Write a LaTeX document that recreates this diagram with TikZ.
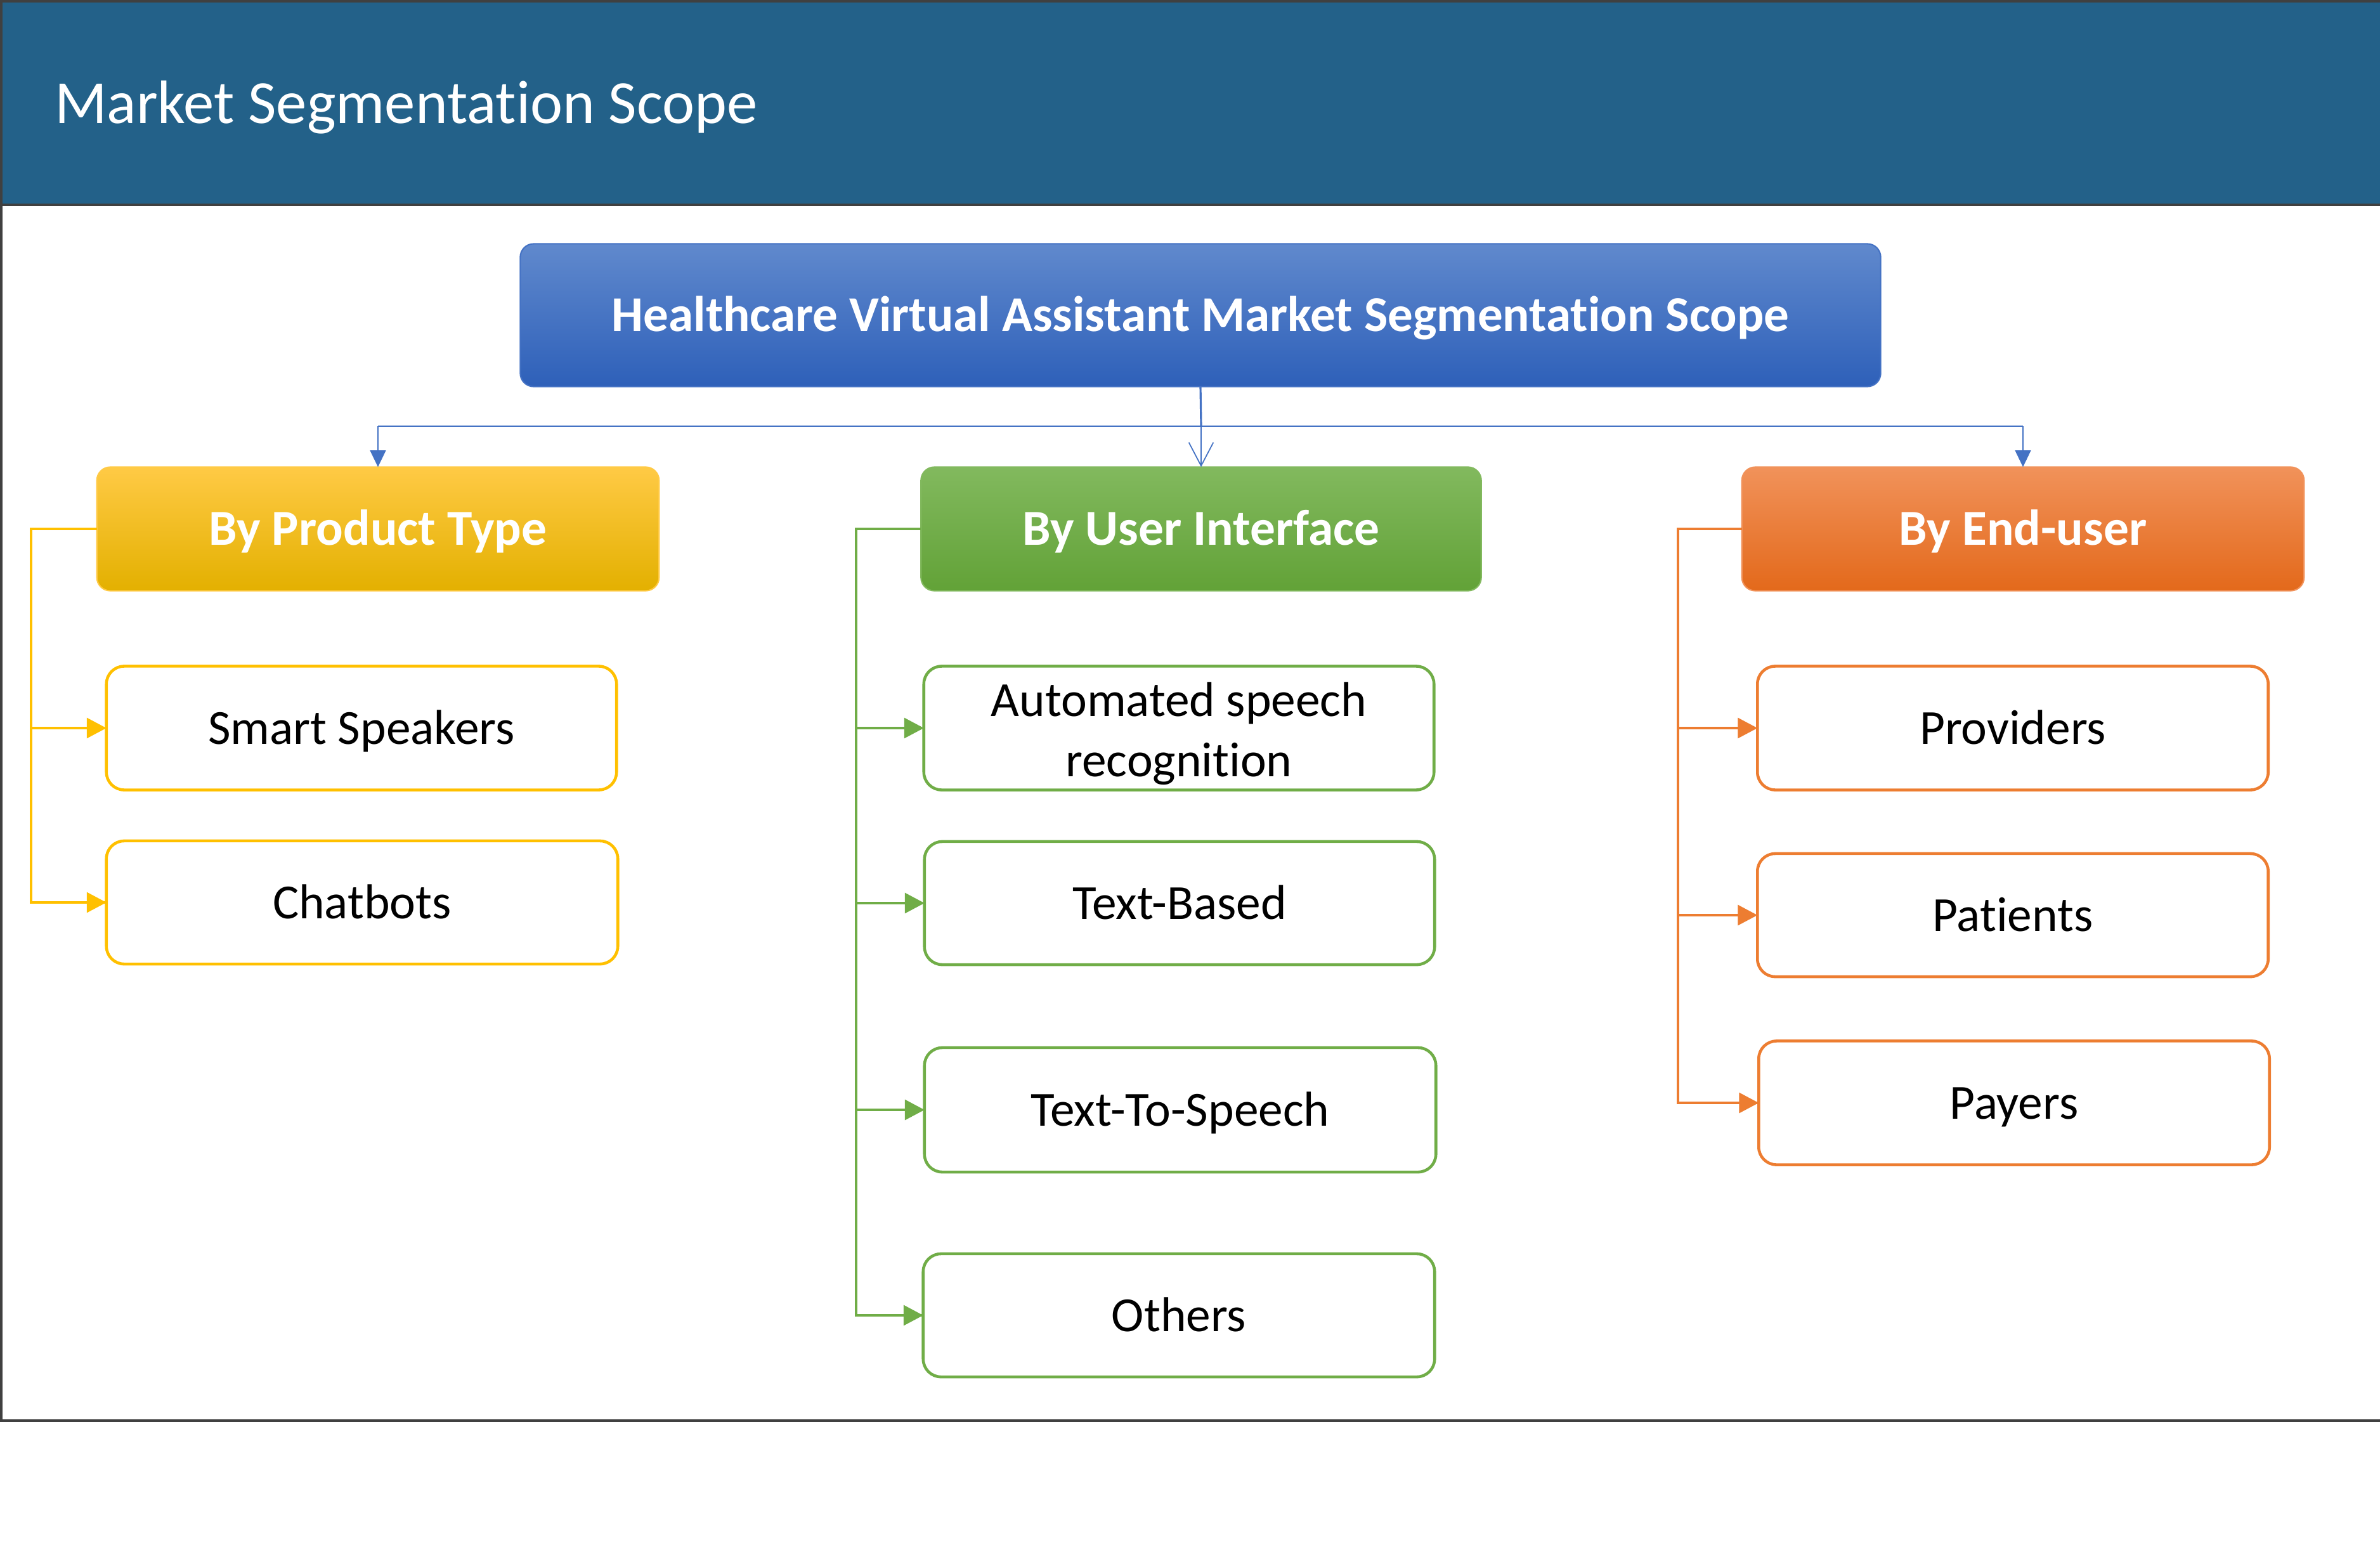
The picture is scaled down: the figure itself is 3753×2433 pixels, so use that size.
\documentclass[tikz,border=0pt]{standalone}
\usepackage{fontspec}
\setmainfont[Ligatures=NoCommon]{Carlito}
\usetikzlibrary{arrows.meta,calc}
\definecolor{framegrey}{HTML}{404040}
\definecolor{headblue}{HTML}{236189}
\definecolor{mainTop}{HTML}{6089CD}
\definecolor{mainBot}{HTML}{2E60B9}
\definecolor{bluel}{HTML}{4472C4}
\definecolor{yel}{HTML}{FFC000}
\definecolor{yelTop}{HTML}{FFCA45}
\definecolor{yelBot}{HTML}{E3B000}
\definecolor{grn}{HTML}{70AD47}
\definecolor{grnTop}{HTML}{82B95E}
\definecolor{grnBot}{HTML}{62A237}
\definecolor{org}{HTML}{ED7D31}
\definecolor{orgTop}{HTML}{F1925A}
\definecolor{orgBot}{HTML}{E3691B}
\tikzset{
  every node/.style={inner sep=0pt, outer sep=0pt},
  boxtext/.style={text height=17pt, text depth=2.5pt},
  mainbox/.style={boxtext, rounded corners=6pt, top color=mainTop, bottom color=mainBot, draw=bluel, line width=0.6pt, text=white, font=\bfseries\fontsize{22.5}{27}\selectfont},
  catbox/.style={boxtext, rounded corners=6pt, line width=0.6pt, text=white, font=\bfseries\fontsize{22.6}{27}\selectfont},
  childbox/.style={boxtext, rounded corners=8pt, fill=white, line width=1.3pt, text=black, font=\fontsize{22}{27}\selectfont, align=center},
  conn/.style={line width=0.9pt},
  tip/.style={-{Triangle[length=8.8pt,width=9.1pt]}},
}
\begin{document}
\begin{tikzpicture}[x=0.01cm,y=-0.01cm]
\useasboundingbox (0,0) rectangle (3753,2433);
% frame and header
\fill[white] (0,0) rectangle (3753,2433);
\fill[headblue] (4,4) rectangle (3753,321);
\fill[framegrey] (0,0) rectangle (3753,4);
\fill[framegrey] (0,321) rectangle (3753,325);
\fill[framegrey] (0,0) rectangle (4,2242);
\fill[framegrey] (0,2238) rectangle (3753,2242);
\node[anchor=base west, text=white, font=\fontsize{27.5}{33}\selectfont] (title) at (86,194) {Market Segmentation Scope};

% main box
\node[mainbox, minimum width=21.44cm, minimum height=2.25cm] (main) at (1893,497) {Healthcare Virtual Assistant Market Segmentation Scope};

% category boxes
\node[catbox, top color=yelTop, middle color=yel, bottom color=yelBot, draw=yelTop, minimum width=8.86cm, minimum height=1.95cm] (pt) at (596,834) {By Product Type};
\node[catbox, top color=grnTop, bottom color=grnBot, draw=grnTop, minimum width=8.83cm, minimum height=1.95cm] (ui) at (1894,834) {By User Interface};
\node[catbox, top color=orgTop, bottom color=orgBot, draw=orgTop, minimum width=8.86cm, minimum height=1.95cm] (eu) at (3190,834) {By End-user};

% children
\node[childbox, draw=yel, minimum width=8.04cm, minimum height=1.95cm] (ss) at (570,1148) {Smart Speakers};
\node[childbox, draw=yel, minimum width=8.06cm, minimum height=1.94cm] (cb) at (571,1423) {Chatbots};

\node[childbox, draw=grn, text height=48pt, text depth=4.7pt, minimum width=8.04cm, minimum height=1.95cm] (asr) at (1859,1148) {Automated speech\\recognition};
\node[childbox, draw=grn, minimum width=8.04cm, minimum height=1.94cm] (tb) at (1860,1424) {Text-Based};
\node[childbox, draw=grn, minimum width=8.06cm, minimum height=1.96cm] (tts) at (1861,1750) {Text-To-Speech};
\node[childbox, draw=grn, minimum width=8.06cm, minimum height=1.94cm] (oth) at (1859,2074) {Others};

\node[childbox, draw=org, minimum width=8.05cm, minimum height=1.95cm] (prov) at (3174,1148) {Providers};
\node[childbox, draw=org, minimum width=8.05cm, minimum height=1.94cm] (pat) at (3174,1443) {Patients};
\node[childbox, draw=org, minimum width=8.05cm, minimum height=1.95cm] (pay) at (3176,1739) {Payers};

% blue connectors
\coordinate (bj) at (1894,672);
\coordinate (bL) at (596,672);
\coordinate (bR) at (3190,672);
\draw[bluel, line width=0.9pt] (main.south) -- (bj);
\draw[bluel, line width=0.8pt] (bL) -- (bR);
\draw[bluel, line width=0.8pt, -{Triangle[length=7.5pt,width=7pt]}] (bL) -- (pt.north);
\draw[bluel, line width=0.8pt, -{Triangle[length=7.5pt,width=7pt]}] (bR) -- (eu.north);
\draw[bluel, line width=0.5pt, -{Straight Barb[length=10.5pt,width=11pt,line width=0.5pt]}] (bj) -- (ui.north);

% yellow tree
\coordinate (yt) at (49,834);
\draw[yel, conn] (pt.west) -- (yt) |- (cb.west);
\draw[yel, conn, tip] (yt |- ss.west) -- (ss.west);
\draw[yel, conn, tip] (yt |- cb.west) -- (cb.west);

% green tree
\coordinate (gt) at (1350,834);
\draw[grn, conn] (ui.west) -- (gt) |- (oth.west);
\draw[grn, conn, tip] (gt |- asr.west) -- (asr.west);
\draw[grn, conn, tip] (gt |- tb.west) -- (tb.west);
\draw[grn, conn, tip] (gt |- tts.west) -- (tts.west);
\draw[grn, conn, tip] (gt |- oth.west) -- (oth.west);

% orange tree
\coordinate (ot) at (2646,834);
\draw[org, conn] (eu.west) -- (ot) |- (pay.west);
\draw[org, conn, tip] (ot |- prov.west) -- (prov.west);
\draw[org, conn, tip] (ot |- pat.west) -- (pat.west);
\draw[org, conn, tip] (ot |- pay.west) -- (pay.west);
\end{tikzpicture}
\end{document}
